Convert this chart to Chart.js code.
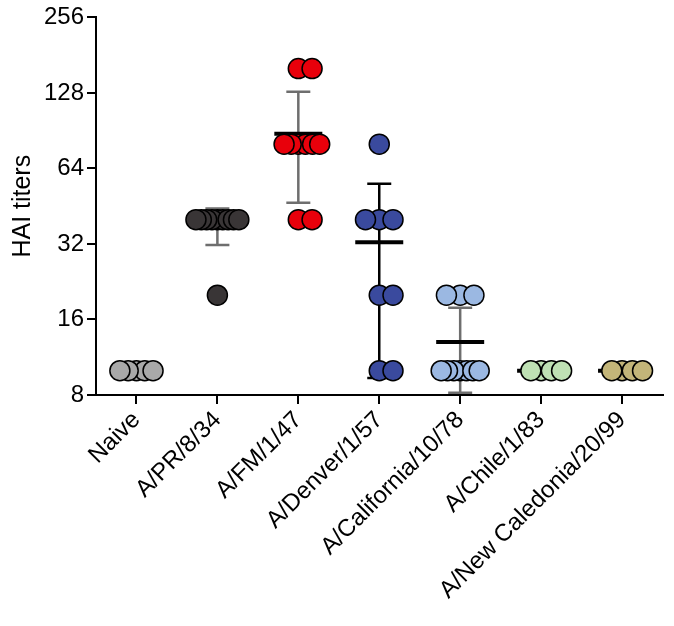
<!DOCTYPE html>
<html>
<head>
<meta charset="utf-8">
<script src="https://cdn.jsdelivr.net/npm/chart.js@4/dist/chart.umd.min.js"></script>
<style>
  html, body { margin: 0; padding: 0; background: #fff; }
  #wrap { width: 674px; height: 626px; position: relative; }
</style>
</head>
<body>
<div id="wrap"><canvas id="chart"></canvas></div>
<script>
// groups on the x axis
const categories = ['Naive', 'A/PR/8/34', 'A/FM/1/47', 'A/Denver/1/57', 'A/California/10/78', 'A/Chile/1/83', 'A/New Caledonia/20/99'];

// HAI titers per mouse, one array per group
const naive = [10, 10, 10, 10, 10];
const pr834 = [40, 40, 40, 40, 40, 40, 40, 40, 40, 20];
const fm147 = [160, 160, 80, 80, 80, 80, 80, 80, 40, 40];
const denver157 = [80, 40, 40, 40, 20, 20, 10, 10];
const california1078 = [20, 20, 20, 10, 10, 10, 10, 10, 10, 10];
const chile183 = [10, 10, 10, 10];
const newCaledonia2099 = [10, 10, 10, 10];

const yTicks = [8, 16, 32, 64, 128, 256];

const groups = [naive, pr834, fm147, denver157, california1078, chile183, newCaledonia2099];
const fillColors = ['#a9a9a9', '#393536', '#e8000b', '#3a4a9e', '#9bb8e2', '#bfe1b4', '#c3b579'];
const barColors = ['#6e6e6e', '#6e6e6e', '#6e6e6e', '#000000', '#6e6e6e', '#6e6e6e', '#6e6e6e'];

Chart.defaults.font.family = '"Liberation Sans", Arial, Helvetica, sans-serif';
Chart.defaults.color = '#000';

// spread equal values sideways: centre, right, left, right, left ...
function spread(values, index) {
  const counts = {};
  values.forEach(v => { counts[v] = (counts[v] || 0) + 1; });
  const seen = {};
  return values.map(v => {
    const k = counts[v];
    const n = seen[v] || 0;
    seen[v] = n + 1;
    const width = Math.min(0.17 * (k - 1), 0.26 + 0.03 * k);
    const step = k > 1 ? width / (k - 1) : 0;
    const slot = n === 0 ? 0 : (n % 2 ? Math.ceil(n / 2) : -n / 2);
    return { x: index + slot * step, y: v };
  });
}

function stats(values) {
  const n = values.length;
  const mean = values.reduce((a, b) => a + b, 0) / n;
  const sd = n > 1 ? Math.sqrt(values.reduce((a, b) => a + (b - mean) ** 2, 0) / (n - 1)) : 0;
  return { mean, sd };
}

// mean line and SD bars, drawn under the dots
const meanSdPlugin = {
  id: 'meanSd',
  beforeDatasetsDraw(chart) {
    const { ctx, scales: { x, y } } = chart;
    ctx.save();
    groups.forEach((vals, i) => {
      const { mean, sd } = stats(vals);
      const cx = x.getPixelForValue(i);
      if (sd > 0) {
        const top = y.getPixelForValue(mean + sd);
        const bot = y.getPixelForValue(Math.max(mean - sd, 8));
        ctx.strokeStyle = barColors[i];
        ctx.lineWidth = 2.5;
        ctx.beginPath();
        ctx.moveTo(cx, top); ctx.lineTo(cx, bot);
        ctx.moveTo(cx - 12, top); ctx.lineTo(cx + 12, top);
        ctx.moveTo(cx - 12, bot); ctx.lineTo(cx + 12, bot);
        ctx.stroke();
      }
      const my = y.getPixelForValue(mean);
      ctx.strokeStyle = '#000';
      ctx.lineWidth = 4;
      ctx.beginPath();
      ctx.moveTo(cx - 24, my); ctx.lineTo(cx + 24, my);
      ctx.stroke();
    });
    ctx.restore();
  },
};

new Chart(document.getElementById('chart').getContext('2d'), {
  type: 'scatter',
  data: {
    datasets: groups.map((vals, i) => ({
      label: categories[i],
      data: spread(vals, i),
      backgroundColor: fillColors[i],
      borderColor: '#000',
      borderWidth: 1.5,
      pointRadius: 10,
      clip: false,
    })),
  },
  options: {
    responsive: true,
    maintainAspectRatio: false,
    animation: false,
    layout: { padding: { top: 17, right: 11, left: 0, bottom: 0 } },
    plugins: {
      legend: { display: false },
      tooltip: { enabled: false },
    },
    scales: {
      x: {
        type: 'linear',
        min: -0.5,
        max: 6.5,
        afterBuildTicks: s => { s.ticks = categories.map((c, i) => ({ value: i })); },
        afterFit: s => { s.height = 231; },
        ticks: {
          callback: v => categories[v],
          minRotation: 45,
          maxRotation: 45,
          font: { size: 24 },
          color: '#000',
          padding: 2,
        },
        grid: { drawOnChartArea: false, drawTicks: true, tickLength: 9, color: '#000', lineWidth: 2 },
        border: { color: '#000', width: 2 },
      },
      y: {
        type: 'logarithmic',
        min: 8,
        max: 256,
        afterBuildTicks: s => { s.ticks = yTicks.map(v => ({ value: v })); },
        afterFit: s => { s.width = 96; },
        ticks: {
          callback: v => String(v),
          font: { size: 24 },
          color: '#000',
          padding: 3,
        },
        title: { display: true, text: 'HAI titers', font: { size: 25 }, color: '#000', padding: { top: 8, bottom: 0 } },
        grid: { drawOnChartArea: false, drawTicks: true, tickLength: 9, color: '#000', lineWidth: 2 },
        border: { color: '#000', width: 2 },
      },
    },
  },
  plugins: [meanSdPlugin],
});
</script>
</body>
</html>
